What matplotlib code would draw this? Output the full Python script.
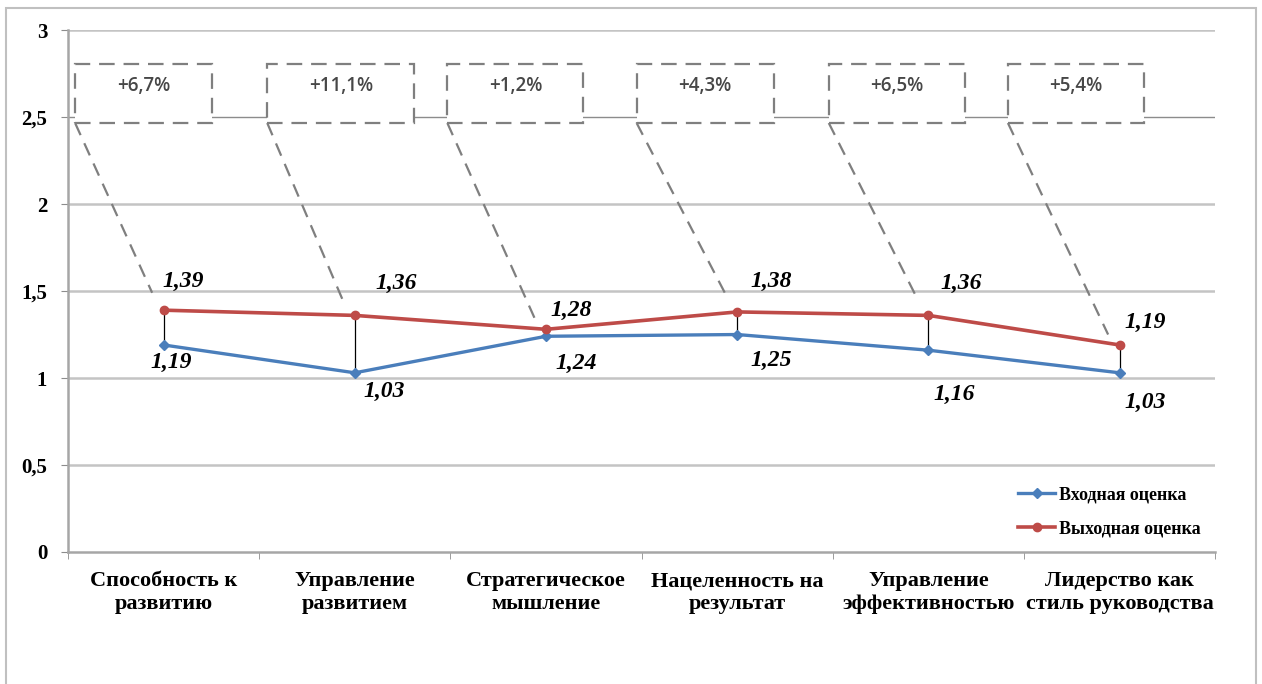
import matplotlib.pyplot as plt
import numpy as np
from matplotlib.patches import Rectangle

# данные
categories = ['Способность к\nразвитию', 'Управление\nразвитием', 'Стратегическое\nмышление',
              'Нацеленность на\nрезультат', 'Управление\nэффективностью', 'Лидерство как\nстиль руководства']
vhod = [1.19, 1.03, 1.24, 1.25, 1.16, 1.03]
vyhod = [1.39, 1.36, 1.28, 1.38, 1.36, 1.19]
prirost = ['+6,7%', '+11,1%', '+1,2%', '+4,3%', '+6,5%', '+5,4%']
yticks = [0, 0.5, 1, 1.5, 2, 2.5, 3]
ytick_labels = ['0', '0,5', '1', '1,5', '2', '2,5', '3']

# оформление (смещения подписей в пикселях, положения рамок)
blue_off = [(8, -17), (29, -19), (30, -27), (34, -26), (26, -44), (26, -30)]
red_off = [(20, 29), (41, 32), (25, 19), (34, 30), (33, 32), (26, 23)]
box_left = [-0.463, -0.458, -0.516, -0.526, -0.521, -0.584]
box_width = [0.717, 0.77, 0.712, 0.717, 0.712, 0.712]
leader_dy = [0.10, 0.08, 0.065, 0.10, 0.10, 0.06]

serif = 'Liberation Serif'
blue = '#4A7EBB'
red = '#BE4B48'

fig = plt.figure(figsize=(12.62, 6.84), dpi=100)
ax = fig.add_axes([0.0539, 0.193, 0.909, 0.763])

x = np.arange(len(categories))

# сетка
for yv in yticks[1:]:
    if yv == 2.5:
        ax.axhline(yv, color='#8c8c8c', lw=1.0, zorder=0)
    else:
        ax.axhline(yv, color='#c4c4c4', lw=1.8, zorder=0)

# вертикальные линии между оценками
ax.vlines(x, vhod, vyhod, color='black', lw=0.9, zorder=2)

ax.plot(x, vhod, color=blue, lw=2.4, marker='D', ms=5, label='Входная оценка', zorder=3)
ax.plot(x, vyhod, color=red, lw=2.6, marker='o', ms=6, label='Выходная оценка', zorder=3)

for i in range(len(x)):
    ax.annotate(f'{vhod[i]:.2f}'.replace('.', ','), (x[i], vhod[i]), xytext=blue_off[i],
                textcoords='offset pixels', ha='center', va='center',
                fontsize=17, fontweight='bold', fontstyle='italic', family=serif)
    ax.annotate(f'{vyhod[i]:.2f}'.replace('.', ','), (x[i], vyhod[i]), xytext=red_off[i],
                textcoords='offset pixels', ha='center', va='center',
                fontsize=17, fontweight='bold', fontstyle='italic', family=serif)

# рамки с приростом
b_bot, b_top = 2.466, 2.805
for i in range(len(x)):
    left = x[i] + box_left[i]
    ax.add_patch(Rectangle((left, b_bot), box_width[i], b_top - b_bot, facecolor='white',
                           edgecolor='#7f7f7f', lw=1.6, linestyle=(0, (7, 4)), zorder=4))
    ax.text(left + box_width[i] / 2, 2.678, prirost[i], ha='center', va='center',
            fontsize=13.5, fontweight='semibold', color='#474747', family='Open Sans', zorder=5)
    ax.plot([left, x[i] - 0.06], [b_bot, vyhod[i] + leader_dy[i]], color='#7f7f7f',
            lw=1.6, linestyle=(0, (6, 4)), zorder=4)

ax.set_xlim(-0.5, 5.5)
ax.set_ylim(0, 3)
ax.set_yticks(yticks)
ax.set_yticklabels(ytick_labels, fontsize=15, fontweight='bold', family=serif)
ax.set_xticks(x)
ax.set_xticklabels(categories, fontsize=16, fontweight='bold', family=serif, linespacing=1.2)
ax.set_xticks(np.arange(-0.5, 6, 1), minor=True)
ax.tick_params(axis='x', which='major', length=0, pad=14)
ax.tick_params(axis='x', which='minor', length=5, color='#8c8c8c', direction='out')
ax.tick_params(axis='y', length=5, color='#8c8c8c', pad=10)
for s in ['top', 'right']:
    ax.spines[s].set_visible(False)
for s in ['left', 'bottom']:
    ax.spines[s].set_color('#a6a6a6')
    ax.spines[s].set_linewidth(1.8)

leg = ax.legend(loc='lower right', bbox_to_anchor=(1.0, 0.0), frameon=False,
                prop={'family': serif, 'weight': 'bold', 'size': 13}, handlelength=2.0,
                labelspacing=0.95, handletextpad=0.25, borderaxespad=0.4)

# рамка вокруг диаграммы
fig.add_artist(Rectangle((0.005, -0.01), 0.99, 0.998, transform=fig.transFigure,
                         fill=False, edgecolor='#c0c0c0', lw=1.5))

plt.savefig('out.png', dpi=100)
